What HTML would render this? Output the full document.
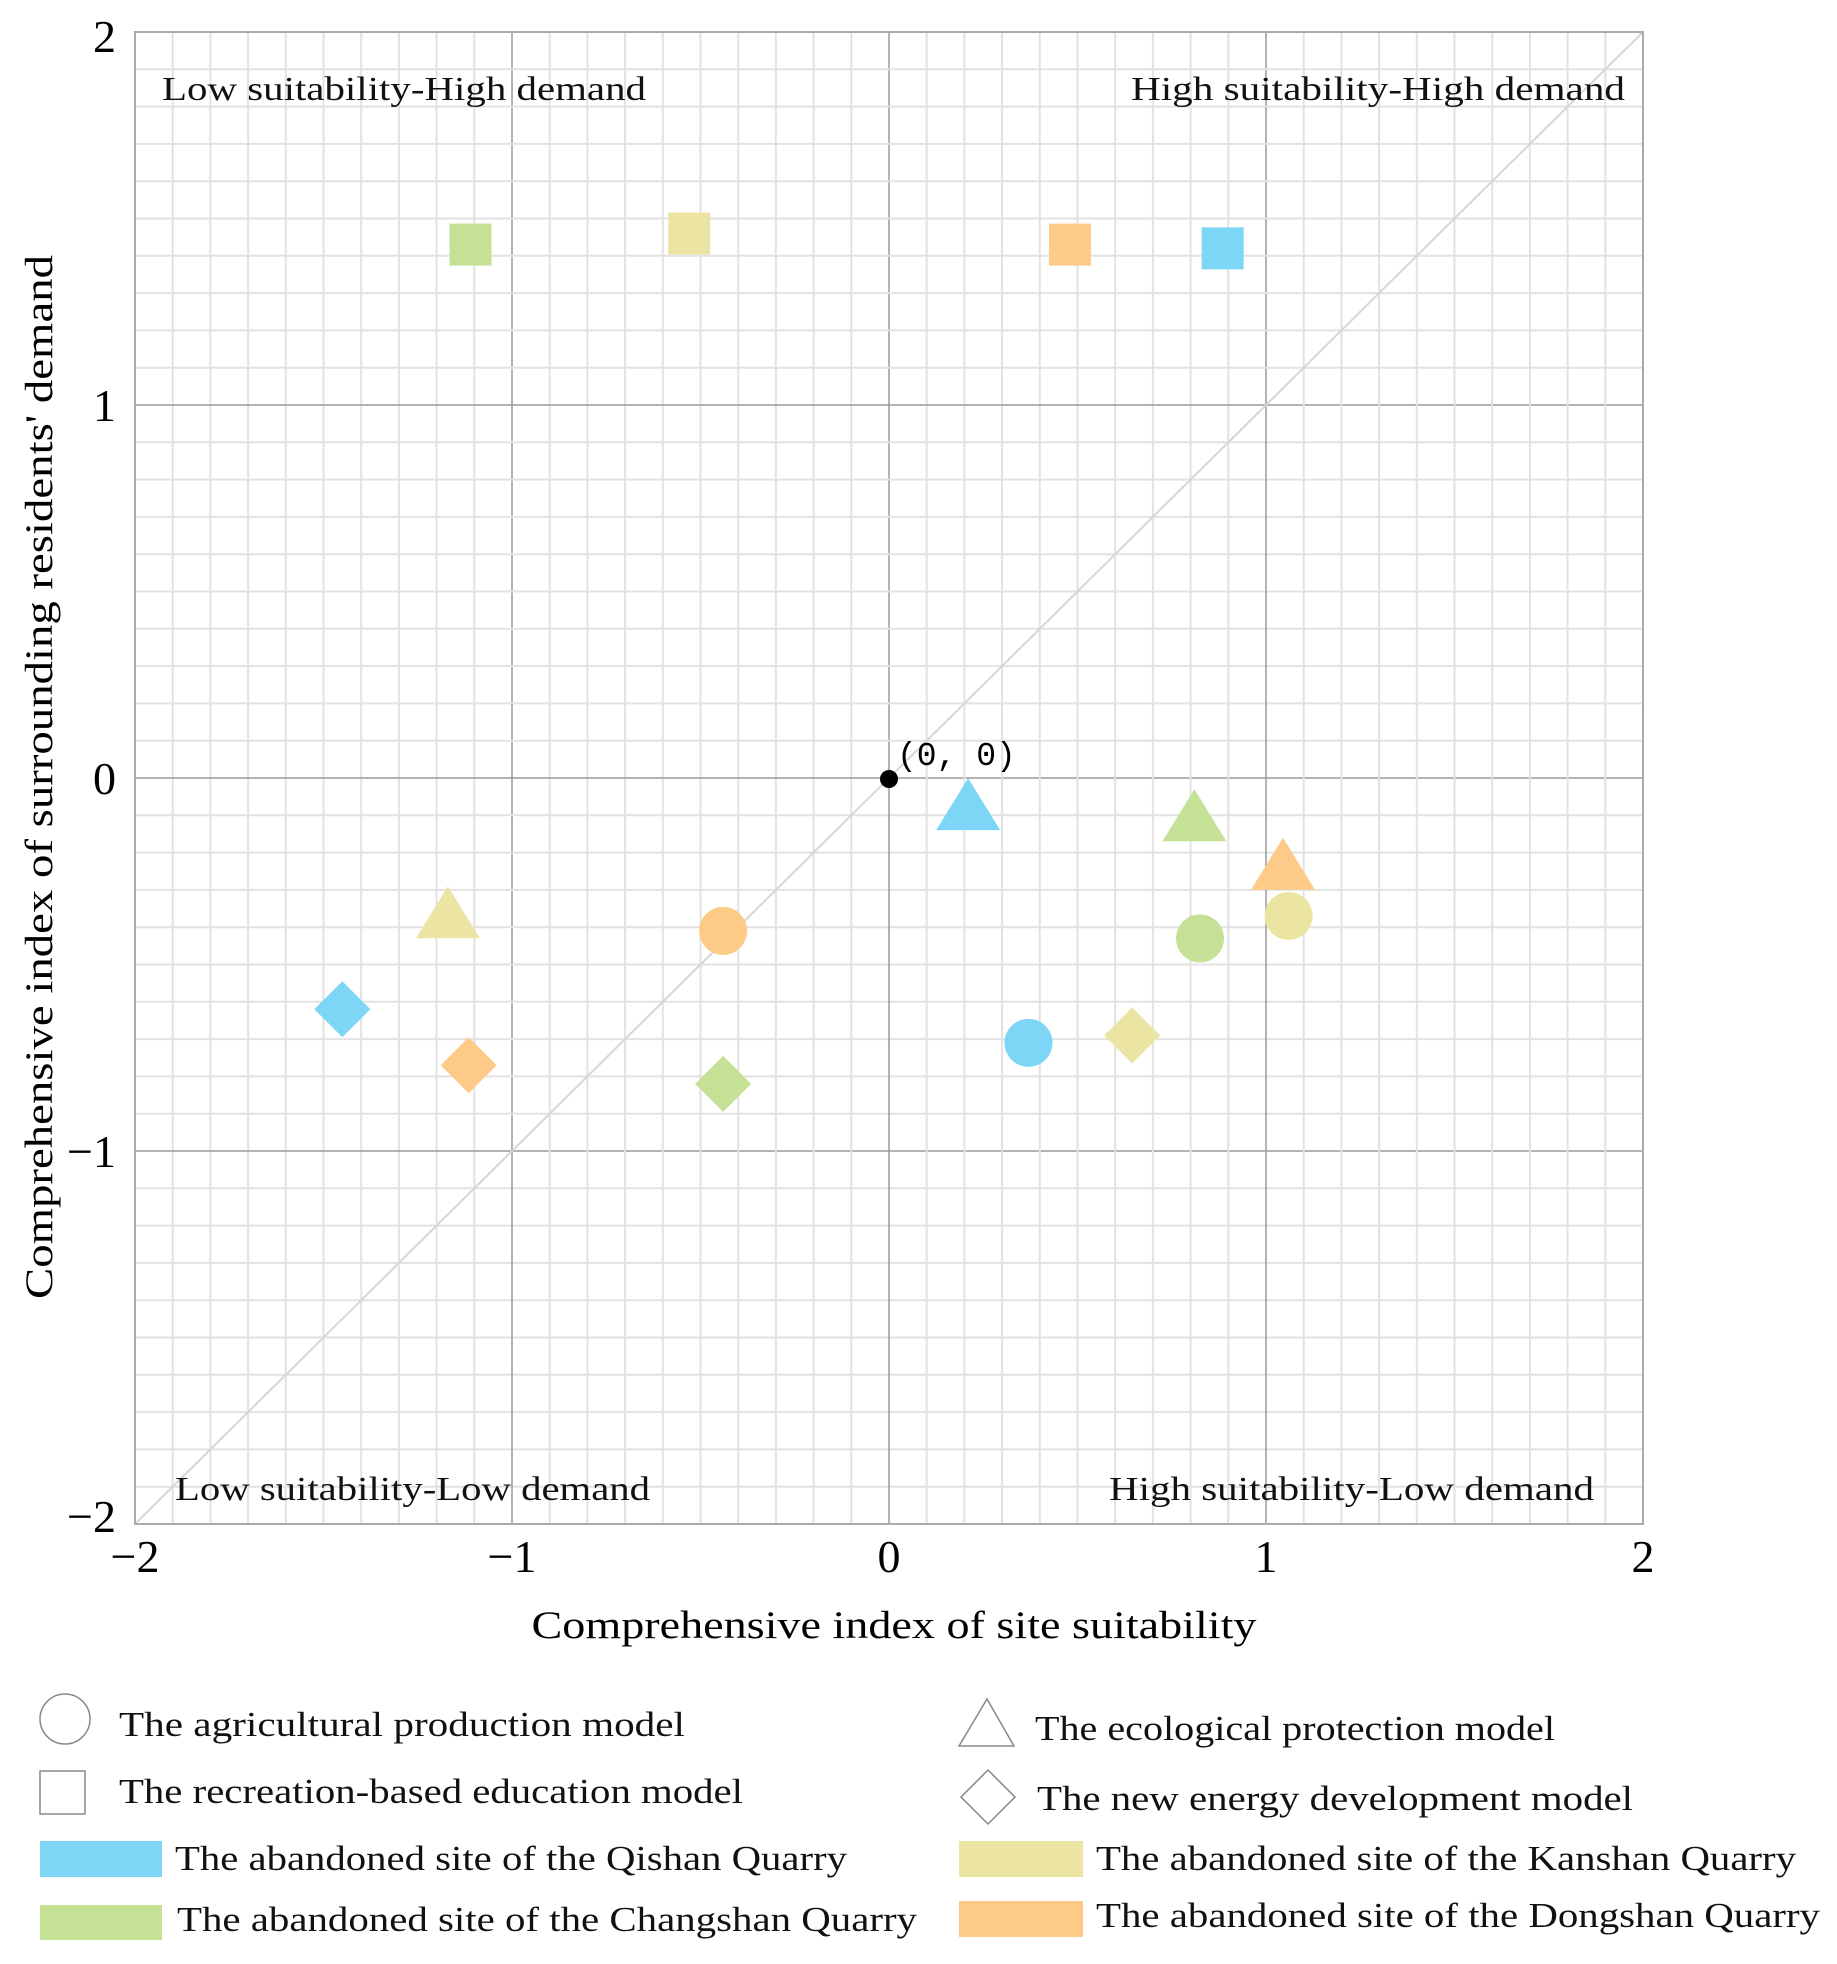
<!DOCTYPE html>
<html><head><meta charset="utf-8"><style>
html,body{margin:0;padding:0;background:#fff;}
svg{display:block;font-family:"Liberation Serif",serif;}
</style></head><body>
<svg id="chart" width="1837" height="1964" viewBox="0 0 1837 1964" xmlns="http://www.w3.org/2000/svg">
<g id="grid"></g>
<line x1="135" y1="1524" x2="1643" y2="32" stroke="#d6d6d6" stroke-width="2"/>
<rect x="135" y="32" width="1508" height="1492" fill="none" stroke="#aaa" stroke-width="2"/>
<g id="ticks" font-size="46" fill="#000"></g>
<g font-size="34" fill="#111">
<text x="162" y="100" textLength="484" lengthAdjust="spacingAndGlyphs">Low suitability-High demand</text>
<text x="1131" y="100" textLength="494" lengthAdjust="spacingAndGlyphs">High suitability-High demand</text>
<text x="175" y="1500" textLength="475" lengthAdjust="spacingAndGlyphs">Low suitability-Low demand</text>
<text x="1109" y="1500" textLength="485" lengthAdjust="spacingAndGlyphs">High suitability-Low demand</text>
</g>
<circle cx="889" cy="779" r="9" fill="#000"/>
<text x="897" y="765" font-size="33" font-family="Liberation Mono, monospace">(0, 0)</text>
<g id="marks"></g>
<text x="894" y="1638" font-size="39" text-anchor="middle" textLength="725" lengthAdjust="spacingAndGlyphs">Comprehensive index of site suitability</text>
<text transform="translate(52,777) rotate(-90)" font-size="39" text-anchor="middle" textLength="1044" lengthAdjust="spacingAndGlyphs">Comprehensive index of surrounding residents' demand</text>
<g font-size="35" fill="#111">
<circle cx="65" cy="1719" r="25" fill="none" stroke="#888" stroke-width="1.5"/>
<text x="119" y="1736" textLength="566" lengthAdjust="spacingAndGlyphs">The agricultural production model</text>
<rect x="40" y="1771" width="45" height="43" fill="none" stroke="#888" stroke-width="1.5"/>
<text x="119" y="1803" textLength="624" lengthAdjust="spacingAndGlyphs">The recreation-based education model</text>
<rect x="40" y="1841" width="122" height="36" fill="#7dd6f5"/>
<text x="175" y="1870" textLength="672" lengthAdjust="spacingAndGlyphs">The abandoned site of the Qishan Quarry</text>
<rect x="40" y="1905" width="122" height="35" fill="#c5e196"/>
<text x="177" y="1931" textLength="740" lengthAdjust="spacingAndGlyphs">The abandoned site of the Changshan Quarry</text>
<polygon points="987,1699 1014,1746 959,1746" fill="none" stroke="#888" stroke-width="1.5"/>
<text x="1035" y="1740" textLength="520" lengthAdjust="spacingAndGlyphs">The ecological protection model</text>
<polygon points="988,1770 1015,1797 988,1824 961,1797" fill="none" stroke="#888" stroke-width="1.5"/>
<text x="1037" y="1810" textLength="596" lengthAdjust="spacingAndGlyphs">The new energy development model</text>
<rect x="959" y="1841" width="124" height="36" fill="#ece4a2"/>
<text x="1096" y="1870" textLength="700" lengthAdjust="spacingAndGlyphs">The abandoned site of the Kanshan Quarry</text>
<rect x="959" y="1901" width="124" height="36" fill="#fdcb87"/>
<text x="1096" y="1927" textLength="724" lengthAdjust="spacingAndGlyphs">The abandoned site of the Dongshan Quarry</text>
</g>
</svg>
<script>
const sites = ["Qishan","Changshan","Kanshan","Dongshan"];
const siteColors = ["#7dd6f5","#c5e196","#ece4a2","#fdcb87"];
const models = ["circle","square","triangle","diamond"];
// x values (site suitability) per model, in order of sites
const circleX = [0.37, 0.825, 1.06, -0.44];
const circleY = [-0.71, -0.43, -0.37, -0.41];
const squareX = [0.885, -1.11, -0.53, 0.48];
const squareY = [1.42, 1.43, 1.46, 1.43];
const triangleX = [0.21, 0.81, -1.17, 1.045];
const triangleY = [-0.07, -0.10, -0.36, -0.23];
const diamondX = [-1.45, -0.44, 0.645, -1.115];
const diamondY = [-0.62, -0.82, -0.69, -0.77];
const xTicks = [-2,-1,0,1,2];
const yTicks = [-2,-1,0,1,2];
const xTickLabels = ["\u22122","\u22121","0","1","2"];
const yTickLabels = ["\u22122","\u22121","0","1","2"];

const L=135,R=1643,T=32,B=1524;
const sx = v => L + (v+2)/4*(R-L);
const sy = v => B - (v+2)/4*(B-T);
const NS="http://www.w3.org/2000/svg";
function mk(tag, attrs, parent){const e=document.createElementNS(NS,tag);for(const k in attrs)e.setAttribute(k,attrs[k]);parent.appendChild(e);return e;}

const grid=document.getElementById('grid');
for(let i=0;i<=40;i++){
  const v=-2+i*0.1; const major=(i%10===0);
  const vl=mk('line',{x1:sx(v),x2:sx(v),y1:T,y2:B,stroke:major?'#9a9a9a':'#e2e2e2','stroke-width':major?1.5:2},grid);
  
  
  const hl=mk('line',{x1:L,x2:R,y1:sy(v),y2:sy(v),stroke:major?'#9a9a9a':'#e2e2e2','stroke-width':major?1.5:2},grid);
  
  
}
const ticks=document.getElementById('ticks');
xTicks.forEach((v,i)=>{
  const t=mk('text',{x:sx(v),y:1572,'text-anchor':'middle'},ticks);
  t.textContent=xTickLabels[i];
  
  
});
yTicks.forEach((v,i)=>{
  let y=sy(v)+16; if(v===2) y=sy(v)+20; if(v===-2) y=sy(v)+8;
  const t=mk('text',{x:116,y:y,'text-anchor':'end'},ticks);
  t.textContent=yTickLabels[i];
  
  
});
const marks=document.getElementById('marks');
const data={circle:[circleX,circleY],square:[squareX,squareY],triangle:[triangleX,triangleY],diamond:[diamondX,diamondY]};
models.forEach(m=>{
  const [xs,ys]=data[m];
  xs.forEach((xv,i)=>{
    const cx=sx(xv), cy=sy(ys[i]), c=siteColors[i];
    let e;
    if(m==='circle') e=mk('circle',{cx:cx,cy:cy,r:24,fill:c},marks);
    else if(m==='square') e=mk('rect',{x:cx-21,y:cy-21,width:42,height:42,fill:c},marks);
    else if(m==='triangle') e=mk('polygon',{points:`${cx},${cy-26} ${cx+32},${cy+26} ${cx-32},${cy+26}`,fill:c},marks);
    else e=mk('polygon',{points:`${cx},${cy-28} ${cx+28},${cy} ${cx},${cy+28} ${cx-28},${cy}`,fill:c},marks);
    
    
  });
});
</script>
</body></html>
